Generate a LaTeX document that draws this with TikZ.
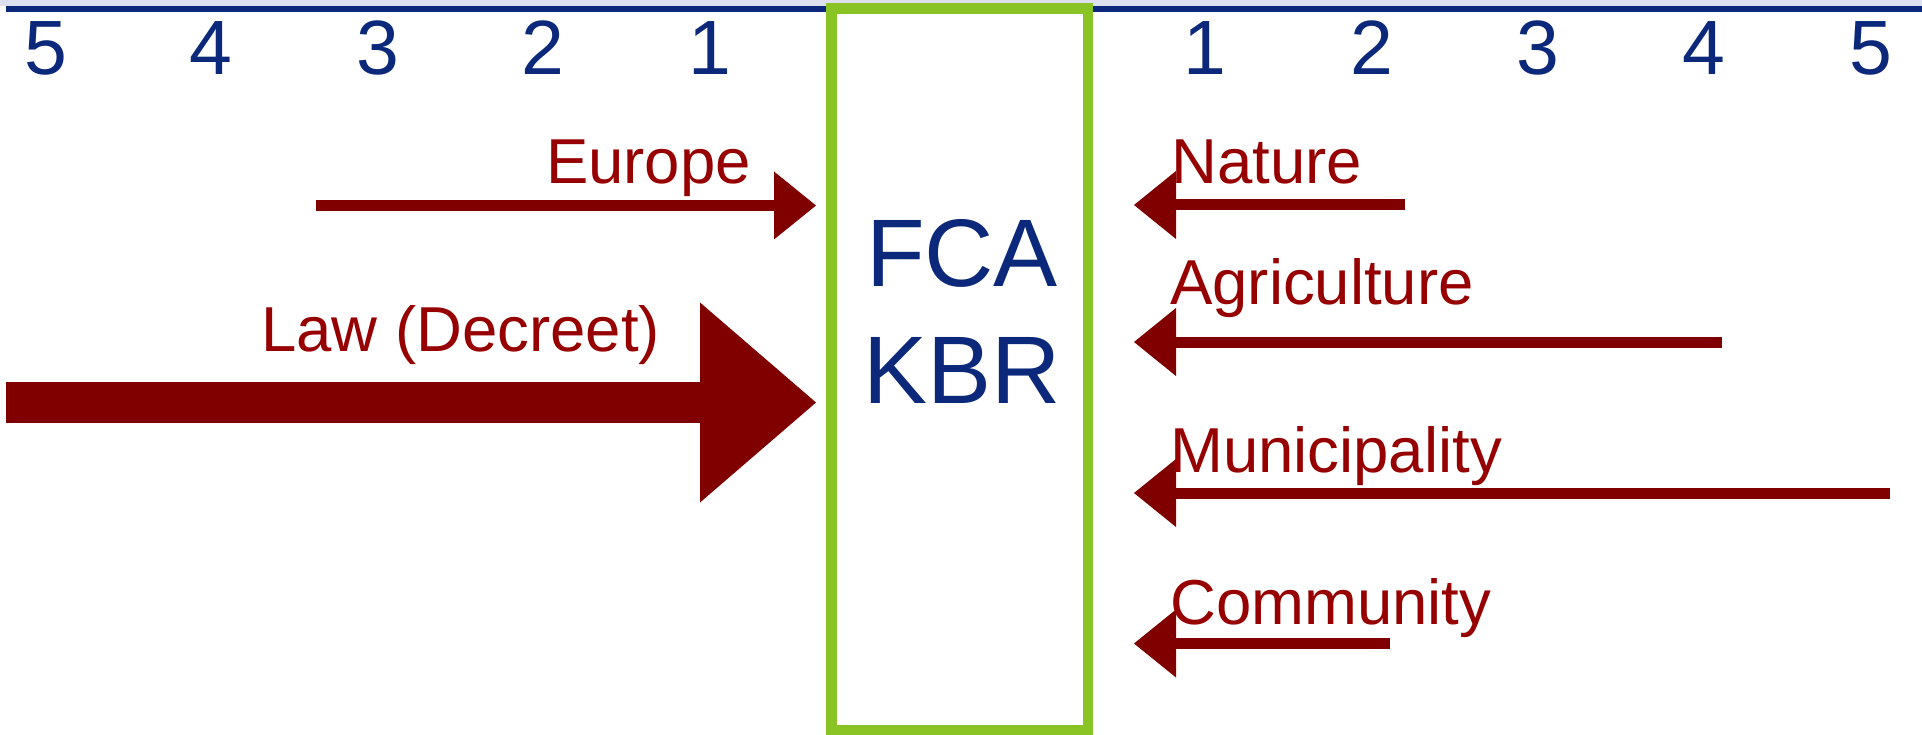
\documentclass[tikz,border=0pt]{standalone}
\usepackage{fontspec}
\setmainfont{Liberation Sans}
\usetikzlibrary{arrows.meta}
\definecolor{axisblue}{RGB}{12,40,122}
\definecolor{bandgray}{RGB}{221,224,239}
\definecolor{boxgreen}{RGB}{137,196,36}
\definecolor{arrowred}{RGB}{128,0,0}
\definecolor{labelred}{RGB}{150,0,0}
\tikzset{
  tick/.style={anchor=base, text=axisblue, inner sep=0pt, font=\fontsize{77}{80}\selectfont},
  lbl/.style={text=labelred, inner sep=0pt, font=\fontsize{63.5}{70}\selectfont},
  centre/.style={anchor=base, text=axisblue, inner sep=0pt, font=\fontsize{96}{116}\selectfont},
  thinarrow/.style={draw=arrowred, line width=11pt, line cap=butt,
    -{Triangle[length=42pt,width=68pt,line width=0pt]}},
  fatarrow/.style={draw=arrowred, line width=41pt, line cap=butt,
    -{Triangle[length=116pt,width=200pt,line width=0pt]}},
  greenbox/.style={draw=boxgreen, line width=10.5pt, fill=none}
}
\begin{document}
\begin{tikzpicture}[x=1pt,y=-1pt]
\useasboundingbox (0,0) rectangle (1922,735);
% top band and axis line
\fill[bandgray] (0,0) rectangle (1922,6);
\coordinate (axL) at (6,9);
\coordinate (axR) at (1922,9);
\draw[axisblue, line width=6pt] (axL) -- (axR);
% scale numbers
\node[tick] (l5) at (46,75) {5};
\node[tick] (l4) at (211,75) {4};
\node[tick] (l3) at (378,75) {3};
\node[tick] (l2) at (543,75) {2};
\node[tick] (l1) at (710,75) {1};
\node[tick] (r1) at (1205,75) {1};
\node[tick] (r2) at (1372,75) {2};
\node[tick] (r3) at (1538,75) {3};
\node[tick] (r4) at (1704,75) {4};
\node[tick] (r5) at (1871,75) {5};
% central box
\fill[white] (831.5,8.5) rectangle (1088,730);
\node[greenbox, minimum width=256.5pt, minimum height=721.5pt, inner sep=0pt] (kbrbox) at (959.75,369.25) {};
\node[centre] (fca) at (962,287) {FCA};
\node[centre] (kbr) at (962,403) {KBR};
% arrow anchor coordinates
\coordinate (eurS) at (316,205.5);
\coordinate (eurE) at (816,205.5);
\coordinate (lawS) at (6,402.5);
\coordinate (lawE) at (816,402.5);
\coordinate (natS) at (1405,205);
\coordinate (natE) at (1134,205);
\coordinate (agrS) at (1722,342);
\coordinate (agrE) at (1134,342);
\coordinate (munS) at (1890,493);
\coordinate (munE) at (1134,493);
\coordinate (comS) at (1390,643.5);
\coordinate (comE) at (1134,643.5);
% arrows
\draw[thinarrow] (eurS) -- (eurE);
\draw[fatarrow] (lawS) -- (lawE);
\draw[thinarrow] (natS) -- (natE);
\draw[thinarrow] (agrS) -- (agrE);
\draw[thinarrow] (munS) -- (munE);
\draw[thinarrow] (comS) -- (comE);
% labels
\node[lbl, anchor=base east] (eur) at (751,184) {Europe};
\node[lbl, anchor=base west] (law) at (261,352) {Law (Decreet)};
\node[lbl, anchor=base west] (nat) at (1171,184) {Nature};
\node[lbl, anchor=base west] (agr) at (1170,305) {Agriculture};
\node[lbl, anchor=base west] (mun) at (1170,472) {Municipality};
\node[lbl, anchor=base west] (com) at (1170,624) {Community};
\end{tikzpicture}
\end{document}
